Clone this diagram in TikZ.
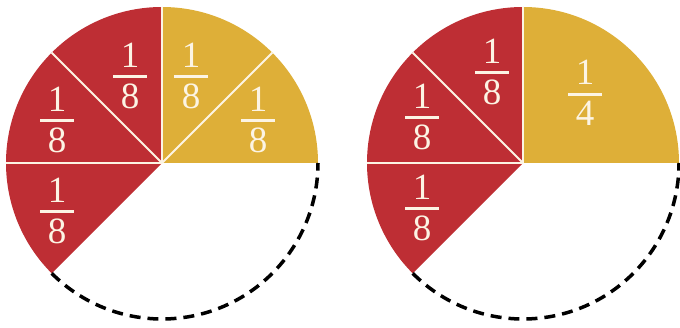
\documentclass[tikz,border=0pt]{standalone}
\usepackage{fontspec}
\setmainfont{Liberation Serif}
\definecolor{pred}{RGB}{190,46,52}
\definecolor{pyel}{RGB}{222,175,56}
\definecolor{pcream}{RGB}{252,244,228}
\newcommand\myfr[2]{\vbox{\offinterlineskip\halign{\hfil##\hfil\cr #1\cr\noalign{\kern8pt}\vrule width 34pt height 3pt\cr\noalign{\kern6pt}#2\cr}}}
\begin{document}
\begin{tikzpicture}[x=1pt,y=1pt,
  sep/.style={draw=pcream,line width=2pt},
  lab/.style={inner sep=0pt,text=pcream,font=\fontsize{37}{40}\selectfont},
  rim/.style={draw=black,line width=3.5pt,dash pattern=on 11pt off 7pt}]
\useasboundingbox (0,0) rectangle (680,327);
\coordinate (cL) at (162,164);
\coordinate (cR) at (523,164);
% left circle
\fill[pred] (cL) -- ++(90:156pt) arc (90:225:156pt) -- cycle;
\fill[pyel] (cL) -- ++(0:156pt) arc (0:90:156pt) -- cycle;
\draw[sep] (cL) -- ++(45:156pt);
\draw[sep] (cL) -- ++(90:156pt);
\draw[sep] (cL) -- ++(135:156pt);
\draw[sep] (cL) -- ++(180:156pt);
\draw[rim] (cL) ++(225:156pt) arc (225:360:156pt);
% right circle
\fill[pred] (cR) -- ++(90:156pt) arc (90:225:156pt) -- cycle;
\fill[pyel] (cR) -- ++(0:156pt) arc (0:90:156pt) -- cycle;
\draw[sep] (cR) -- ++(90:156pt);
\draw[sep] (cR) -- ++(135:156pt);
\draw[sep] (cR) -- ++(180:156pt);
\draw[rim] (cR) ++(225:156pt) arc (225:360:156pt);
% labels left
\node[lab] (l1) at (130,251) {\myfr{1}{8}};
\node[lab] (l2) at (191,251) {\myfr{1}{8}};
\node[lab] (l3) at (258,207) {\myfr{1}{8}};
\node[lab] (l4) at (57,207) {\myfr{1}{8}};
\node[lab] (l5) at (57,116) {\myfr{1}{8}};
% labels right
\node[lab] (r1) at (492,255) {\myfr{1}{8}};
\node[lab] (r2) at (422,210) {\myfr{1}{8}};
\node[lab] (r3) at (422,119) {\myfr{1}{8}};
\node[lab] (r4) at (585,234) {\myfr{1}{4}};
\end{tikzpicture}
\end{document}
